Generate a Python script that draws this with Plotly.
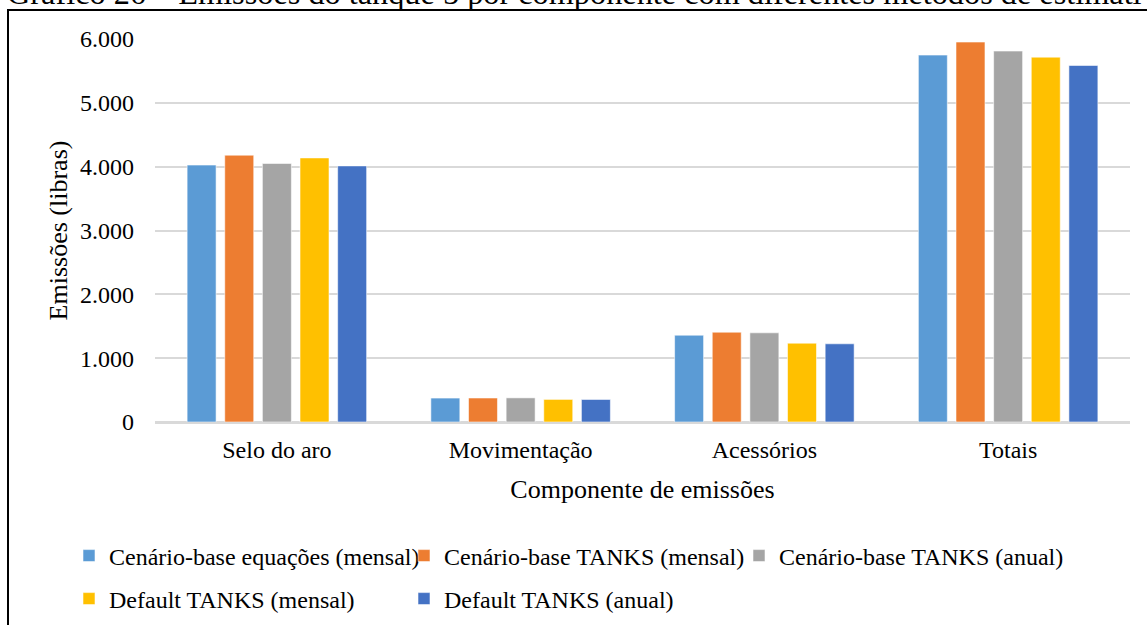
import plotly.graph_objects as go

categories = ["Selo do aro", "Movimentação", "Acessórios", "Totais"]
series_names = [
    "Cenário-base equações (mensal)",
    "Cenário-base TANKS (mensal)",
    "Cenário-base TANKS (anual)",
    "Default TANKS (mensal)",
    "Default TANKS (anual)",
]
base_eq_mensal = [4025, 375, 1360, 5748]
base_tanks_mensal = [4180, 376, 1407, 5952]
base_tanks_anual = [4050, 378, 1397, 5811]
default_tanks_mensal = [4137, 354, 1235, 5716]
default_tanks_anual = [4012, 353, 1225, 5585]
series_values = [base_eq_mensal, base_tanks_mensal, base_tanks_anual,
                 default_tanks_mensal, default_tanks_anual]
colors = ["#5B9BD5", "#ED7D31", "#A5A5A5", "#FFC000", "#4472C4"]
y_ticks = [0, 1000, 2000, 3000, 4000, 5000, 6000]

FONT = "Liberation Serif"

W, H = 1147, 625
ML, MR, MT, MB = 155, 17, 39, 203
PW = W - ML - MR
PH = H - MT - MB


def px_x(px):
    return (px - ML) / PW


def px_y(py):
    return (H - MB - py) / PH


fig = go.Figure()
for i, (name, vals, col) in enumerate(zip(series_names, series_values, colors)):
    fig.add_trace(go.Bar(
        x=categories, y=vals, name=name,
        marker=dict(color=col, line=dict(color="rgba(255,255,255,0.55)", width=1)),
        legend="legend" if i < 3 else "legend2",
    ))

leg_common = dict(
    orientation="h",
    xanchor="left", yanchor="middle",
    font=dict(family=FONT, size=24, color="black"),
    entrywidth=290, entrywidthmode="pixels",
    bgcolor="rgba(0,0,0,0)", itemclick=False, itemdoubleclick=False,
)

fig.update_layout(
    width=W, height=H,
    margin=dict(l=ML, r=MR, t=MT, b=MB, autoexpand=False),
    paper_bgcolor="white", plot_bgcolor="white",
    separators=",.",
    barmode="group", bargap=0.228, bargroupgap=0.23,
    font=dict(family=FONT, size=24, color="black"),
    xaxis=dict(
        automargin=False,
        showgrid=False, showline=False, ticks="",
        tickfont=dict(family=FONT, size=24, color="black"), ticklabelstandoff=11,
        title=dict(text="Componente de emissões",
                   font=dict(family=FONT, size=26, color="black"), standoff=17),
    ),
    yaxis=dict(
        automargin=False,
        range=[0, 6000], tickvals=y_ticks, tickformat=",d",
        showgrid=True, gridcolor="#D9D9D9", gridwidth=1.6,
        zeroline=True, zerolinecolor="#D9D9D9", zerolinewidth=3,
        showline=False, ticks="",
        tickfont=dict(family=FONT, size=24, color="black"), ticklabelstandoff=20,
        title=dict(text="Emissões (libras)",
                   font=dict(family=FONT, size=26, color="black"), standoff=4),
    ),
    legend=dict(x=px_x(69), y=px_y(556), **leg_common),
    legend2=dict(x=px_x(69), y=px_y(599), **leg_common),
    showlegend=True,
)

# chart frame (left and top border)
fig.add_shape(type="line", xref="paper", yref="paper",
              x0=px_x(8), x1=px_x(8), y0=px_y(640), y1=px_y(10),
              line=dict(color="black", width=2))
fig.add_shape(type="line", xref="paper", yref="paper",
              x0=px_x(7), x1=px_x(1160), y0=px_y(10), y1=px_y(10),
              line=dict(color="black", width=2))

# document caption cut off at the top
fig.add_annotation(
    text="Gráfico 26 – Emissões do tanque 5 por componente com diferentes métodos de estimativa",
    xref="paper", yref="paper", x=px_x(5), y=px_y(13),
    xanchor="left", yanchor="bottom", showarrow=False,
    font=dict(family=FONT, size=32.3, color="black"),
)

fig.write_html(
    "out.html",
    config={"displayModeBar": False},
    post_script="document.body.style.margin='0';document.body.style.overflow='hidden';",
)
